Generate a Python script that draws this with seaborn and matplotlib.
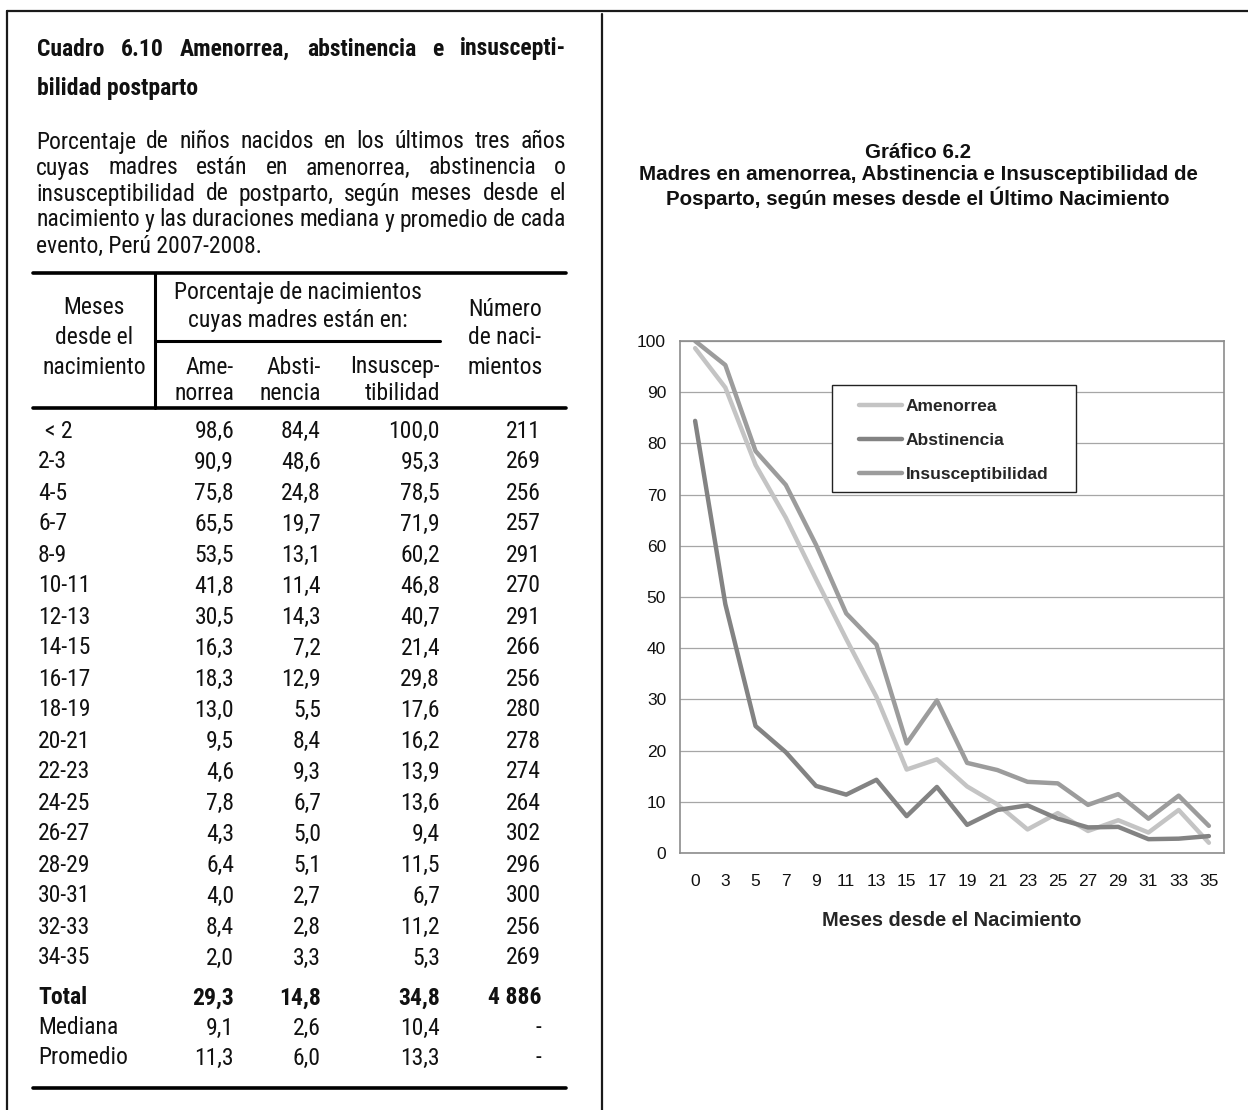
import matplotlib
matplotlib.use("Agg")
import numpy as np
import pandas as pd
import matplotlib.pyplot as plt
import seaborn as sns
from matplotlib import font_manager
from matplotlib.patches import Rectangle

# ---- datos del cuadro 6.10 ----
meses = ["< 2", "2-3", "4-5", "6-7", "8-9", "10-11", "12-13", "14-15", "16-17",
         "18-19", "20-21", "22-23", "24-25", "26-27", "28-29", "30-31", "32-33", "34-35"]
amenorrea = [98.6, 90.9, 75.8, 65.5, 53.5, 41.8, 30.5, 16.3, 18.3,
             13.0, 9.5, 4.6, 7.8, 4.3, 6.4, 4.0, 8.4, 2.0]
abstinencia = [84.4, 48.6, 24.8, 19.7, 13.1, 11.4, 14.3, 7.2, 12.9,
               5.5, 8.4, 9.3, 6.7, 5.0, 5.1, 2.7, 2.8, 3.3]
insusceptibilidad = [100.0, 95.3, 78.5, 71.9, 60.2, 46.8, 40.7, 21.4, 29.8,
                     17.6, 16.2, 13.9, 13.6, 9.4, 11.5, 6.7, 11.2, 5.3]
nacimientos = [211, 269, 256, 257, 291, 270, 291, 266, 256,
               280, 278, 274, 264, 302, 296, 300, 256, 269]

resumen = ["Total", "Mediana", "Promedio"]
resumen_amen = [29.3, 9.1, 11.3]
resumen_abst = [14.8, 2.6, 6.0]
resumen_insus = [34.8, 10.4, 13.3]
resumen_nac = ["4 886", "-", "-"]

# ---- datos del gráfico 6.2 ----
meses_graf = ["0", "3", "5", "7", "9", "11", "13", "15", "17",
              "19", "21", "23", "25", "27", "29", "31", "33", "35"]
series = ["Amenorrea", "Abstinencia", "Insusceptibilidad"]
colores = ["#c4c4c4", "#838383", "#9c9c9c"]

W, H = 1248, 1110

sns.set_style("white")
names = {f.name for f in font_manager.fontManager.ttflist}
if "Liberation Sans Narrow" in names:
    narrow, fs = "Liberation Sans Narrow", 18
elif "Roboto Condensed" in names:
    narrow, fs = "Roboto Condensed", 17
else:
    narrow, fs = "Liberation Sans", 14.8
plt.rcParams["font.family"] = ["Liberation Sans", "DejaVu Sans"]

fig = plt.figure(figsize=(W / 100, H / 100), dpi=100)
bg = fig.add_axes([0, 0, 1, 1])
bg.set_xlim(0, W)
bg.set_ylim(H, 0)
bg.axis("off")

# marco exterior
bg.plot([7, W], [11, 11], color="#1a1a1a", lw=1.6)
bg.plot([7, 7], [11, H], color="#1a1a1a", lw=1.6)
bg.plot([602, 602], [14, H], color="#1a1a1a", lw=1.6)

renderer = fig.canvas.get_renderer()


def txt(x, y, s, ha="left", weight="normal", size=fs):
    return bg.text(x, y, s, ha=ha, va="center", family=[narrow, "DejaVu Sans"],
                   fontsize=size, fontweight=weight, color="#111111")


def justify(words, y, x0, x1, weight="normal"):
    objs = [txt(x0, y, w, weight=weight) for w in words]
    widths = [t.get_window_extent(renderer).width for t in objs]
    gap = (x1 - x0 - sum(widths)) / (len(words) - 1)
    x = x0
    for t, w in zip(objs, widths):
        t.set_x(x)
        x += w + gap


def coma(v):
    return f"{v:.1f}".replace(".", ",")


# titulo y descripcion
justify("Cuadro 6.10 Amenorrea, abstinencia e insuscepti-".split(), 49, 37, 566, weight="bold")
txt(37, 88, "bilidad postparto", weight="bold")
parrafo = ["Porcentaje de niños nacidos en los últimos tres años",
           "cuyas madres están en amenorrea, abstinencia o",
           "insusceptibilidad de postparto, según meses desde el",
           "nacimiento y las duraciones mediana y promedio de cada"]
for i, linea in enumerate(parrafo):
    justify(linea.split(), 142 + 26 * i, 36, 566)
txt(36, 246, "evento, Perú 2007-2008.")

# reglas del cuadro
bg.plot([33, 566], [273, 273], color="black", lw=2.6)
bg.plot([33, 566], [408, 408], color="black", lw=2.6)
bg.plot([33, 566], [1088, 1088], color="black", lw=2.6)
bg.plot([155, 155], [273, 408], color="black", lw=2.2)
bg.plot([155, 440], [341, 341], color="black", lw=2.2)

# encabezados
for s, y in zip(["Meses", "desde el", "nacimiento"], [308, 337, 368]):
    txt(94, y, s, ha="center")
txt(298, 292, "Porcentaje de nacimientos", ha="center")
txt(298, 320, "cuyas madres están en:", ha="center")
for s, y in zip(["Número", "de naci-", "mientos"], [310, 338, 368]):
    txt(505, y, s, ha="center")
col_x = [234, 321, 440, 541]
for x, (a, b) in zip(col_x, [("Ame-", "norrea"), ("Absti-", "nencia"), ("Insuscep-", "tibilidad")]):
    txt(x, 367, a, ha="right")
    txt(x, 393, b, ha="right")

# filas
for i, m in enumerate(meses):
    y = 431 + 31 * i
    txt(45 if i == 0 else 38, y, m)
    txt(col_x[0], y, coma(amenorrea[i]), ha="right")
    txt(col_x[1], y, coma(abstinencia[i]), ha="right")
    txt(col_x[2], y, coma(insusceptibilidad[i]), ha="right")
    txt(col_x[3], y, str(nacimientos[i]), ha="right")
for i, r in enumerate(resumen):
    y = 998 + 30 * i
    w = "bold" if i == 0 else "normal"
    txt(38, y, r, weight=w)
    txt(col_x[0], y, coma(resumen_amen[i]), ha="right", weight=w)
    txt(col_x[1], y, coma(resumen_abst[i]), ha="right", weight=w)
    txt(col_x[2], y, coma(resumen_insus[i]), ha="right", weight=w)
    txt(col_x[3], y, resumen_nac[i], ha="right", weight=w)

# ---- grafico ----
for s, y in zip(["Gráfico 6.2",
                 "Madres en amenorrea, Abstinencia e Insusceptibilidad de",
                 "Posparto, según meses desde el Último Nacimiento"], [152, 175, 198]):
    bg.text(918, y, s, ha="center", va="center", fontsize=14.8, fontweight="bold", color="#111111")

df = pd.DataFrame({
    "Meses": meses_graf * 3,
    "Serie": np.repeat(series, len(meses_graf)),
    "Valor": amenorrea + abstinencia + insusceptibilidad,
})

ax = fig.add_axes([680 / W, 1 - 853 / H, 544 / W, 512 / H])
sns.lineplot(data=df, x="Meses", y="Valor", hue="Serie", hue_order=series,
             palette=dict(zip(series, colores)), sort=False, lw=3.2,
             solid_capstyle="round", solid_joinstyle="round", ax=ax)

ax.set_xlim(-0.5, len(meses_graf) - 0.5)
ax.set_ylim(0, 100)
ax.set_yticks(range(0, 101, 10))
ax.set_xticks(range(len(meses_graf)))
ax.set_xticklabels(meses_graf)
ax.set_xticks(np.arange(-0.5, len(meses_graf), 1), minor=True)
ax.tick_params(axis="x", which="major", length=0, pad=15, labelsize=12.5, labelcolor="#111111")
ax.tick_params(axis="x", which="minor", length=4, width=1, color="#8c8c8c", direction="out")
ax.tick_params(axis="y", length=4, width=1, color="#8c8c8c", direction="out", pad=6,
               labelsize=12.5, labelcolor="#111111")
ax.yaxis.grid(True, color="#a6a6a6", lw=0.9)
ax.set_axisbelow(True)
for sp in ax.spines.values():
    sp.set_color("#8c8c8c")
    sp.set_linewidth(1.2)

ax.set_ylabel("")
ax.set_xlabel("Meses desde el Nacimiento", fontsize=14.4, fontweight="bold", va="center")
ax.xaxis.set_label_coords(0.5, (853 - 920) / 512)

handles, labels = ax.get_legend_handles_labels()
ax.get_legend().remove()
ax.add_patch(Rectangle((0.2794, 0.7051), 0.4485, 0.209, transform=ax.transAxes,
                       facecolor="white", edgecolor="#222222", lw=1, zorder=3))
leg = ax.legend(handles, labels, loc="upper left", bbox_to_anchor=(0.329, 0.887),
                frameon=False, borderpad=0, borderaxespad=0, handlelength=2.5,
                handletextpad=0.2, labelspacing=1.08,
                prop={"size": 12.5, "weight": "bold"})
leg.set_zorder(5)
for h in leg.get_lines():
    h.set_linewidth(3.2)
    h.set_solid_capstyle("round")

fig.savefig("out.png", dpi=100, facecolor="white")
